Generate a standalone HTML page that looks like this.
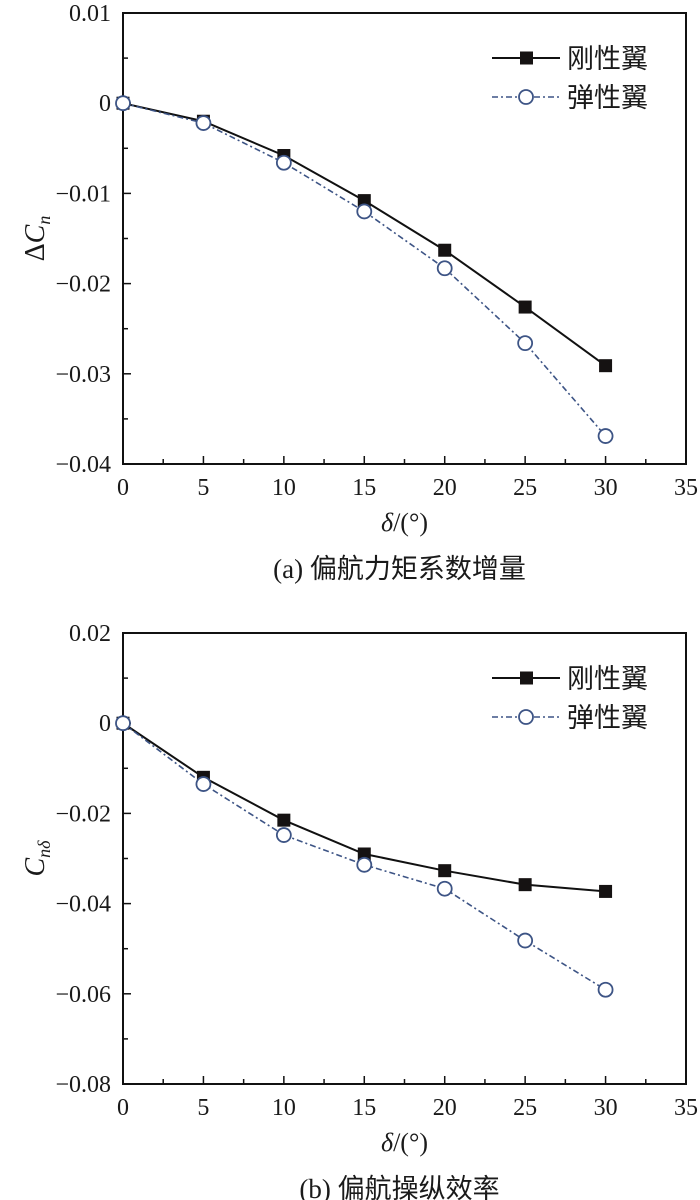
<!DOCTYPE html>
<html><head><meta charset="utf-8"><style>
html,body{margin:0;padding:0;background:#fff;}
svg{display:block;}
text{font-family:"Liberation Serif","Noto Serif CJK SC",serif;fill:#1a1a1a;}
.cj{font-family:"Liberation Serif","Noto Sans CJK SC",sans-serif;}
</style></head><body>
<svg id="c" width="700" height="1200" viewBox="0 0 700 1200" xmlns="http://www.w3.org/2000/svg"></svg>
<script>
const xCats=[0,5,10,15,20,25,30];
const xTicks=[0,5,10,15,20,25,30,35];
const rigidA=[0,-0.002,-0.0058,-0.0108,-0.0163,-0.0226,-0.0291];
const elasticA=[0,-0.0022,-0.0066,-0.012,-0.0183,-0.0266,-0.0369];
const yTicksA=[0.01,0,-0.01,-0.02,-0.03,-0.04];
const yLabelsA=["0.01","0","\u22120.01","\u22120.02","\u22120.03","\u22120.04"];
const rigidB=[0,-0.012,-0.0215,-0.029,-0.0327,-0.0358,-0.0373];
const elasticB=[0,-0.0135,-0.0248,-0.0314,-0.0367,-0.0482,-0.0591];
const yTicksB=[0.02,0,-0.02,-0.04,-0.06,-0.08];
const yLabelsB=["0.02","0","\u22120.02","\u22120.04","\u22120.06","\u22120.08"];

const NS="http://www.w3.org/2000/svg";
const svg=document.getElementById('c');
function mk(tag,attrs,parent,txt){const e=document.createElementNS(NS,tag);for(const k in attrs)e.setAttribute(k,attrs[k]);if(txt!==undefined)e.textContent=txt;(parent||svg).appendChild(e);return e;}

function panel(id,top,ymax,ymin,yTicks,yLabels,rigid,elastic,ylab,caption){
  const L=123,R=686,T=top,B=top+451;
  const g=mk('g',{});
  
  
  const xs=v=>L+(v-0)/35*(R-L);
  const ys=v=>T+(ymax-v)/(ymax-ymin)*(B-T);
  const frame=mk('rect',{x:L,y:T,width:R-L,height:B-T,fill:'none',stroke:'#111','stroke-width':2},g);
  
  
  xTicks.forEach((t,i)=>{
    const x=xs(t);
    mk('line',{x1:x,x2:x,y1:B,y2:B-8,stroke:'#111','stroke-width':1.5},g);
    if(i<xTicks.length-1){const xm=xs(t+2.5);mk('line',{x1:xm,x2:xm,y1:B,y2:B-5,stroke:'#111','stroke-width':1.5},g);}
    const tx=mk('text',{x:x,y:B+31,'font-size':24,'text-anchor':'middle'},g,String(t));
    
    
  });
  yTicks.forEach((t,i)=>{
    const y=ys(t);
    mk('line',{x1:L,x2:L+8,y1:y,y2:y,stroke:'#111','stroke-width':1.5},g);
    if(i<yTicks.length-1){const ym=(y+ys(yTicks[i+1]))/2;mk('line',{x1:L,x2:L+5,y1:ym,y2:ym,stroke:'#111','stroke-width':1.5},g);}
    const tx=mk('text',{x:L-12,y:y+8,'font-size':24,'text-anchor':'end'},g,yLabels[i]);
    
    
  });
  const pr=rigid.map((v,i)=>xs(xCats[i])+','+ys(v)).join(' ');
  const pe=elastic.map((v,i)=>xs(xCats[i])+','+ys(v)).join(' ');
  const lr=mk('polyline',{points:pr,fill:'none',stroke:'#111','stroke-width':2},g);
  
  
  const le=mk('polyline',{points:pe,fill:'none',stroke:'#3d5485','stroke-width':1.6,'stroke-dasharray':'6,3,2,3'},g);
  
  
  rigid.forEach((v,i)=>{
    const r=mk('rect',{x:xs(xCats[i])-6.5,y:ys(v)-6.5,width:13,height:13,fill:'#151212'},g);
    
    
  });
  elastic.forEach((v,i)=>{
    const c=mk('circle',{cx:xs(xCats[i]),cy:ys(v),r:7,fill:'#fff',stroke:'#3d5485','stroke-width':1.8},g);
    
    
  });
  const lg=mk('g',{},g);
  
  
  const y1=T+45,y2=T+84;
  mk('line',{x1:492,x2:560,y1:y1,y2:y1,stroke:'#111','stroke-width':2},lg);
  mk('rect',{x:520,y:y1-6.5,width:13,height:13,fill:'#151212'},lg);
  const t1=mk('text',{x:567,y:y1+10,'font-size':27,class:'cj'},lg,'刚性翼');
  
  
  mk('line',{x1:492,x2:560,y1:y2,y2:y2,stroke:'#3d5485','stroke-width':1.6,'stroke-dasharray':'6,3,2,3'},lg);
  mk('circle',{cx:526,cy:y2,r:7,fill:'#fff',stroke:'#3d5485','stroke-width':1.8},lg);
  const t2=mk('text',{x:567,y:y2+10,'font-size':27,class:'cj'},lg,'弹性翼');
  
  
  const xt=mk('text',{x:(L+R)/2,y:B+67,'font-size':26,'text-anchor':'middle'},g);
  
  
  mk('tspan',{'font-style':'italic'},xt,'δ');
  mk('tspan',{},xt,'/(°)');
  const yt=mk('text',{transform:`translate(44,${(T+B)/2}) rotate(-90)`,'font-size':28,'text-anchor':'middle'},g);
  
  
  ylab(yt);
  const cap=mk('text',{x:(L+R)/2-5,y:B+114,'font-size':27,'text-anchor':'middle',class:'cj'},g,caption);
  
  
}
panel('chart-yaw-moment-increment',13,0.01,-0.04,yTicksA,yLabelsA,rigidA,elasticA,
  t=>{mk('tspan',{},t,'Δ');mk('tspan',{'font-style':'italic'},t,'C');mk('tspan',{'font-style':'italic','font-size':18,dy:6},t,'n');},
  '(a) 偏航力矩系数增量');
panel('chart-yaw-control-efficiency',633,0.02,-0.08,yTicksB,yLabelsB,rigidB,elasticB,
  t=>{mk('tspan',{'font-style':'italic'},t,'C');mk('tspan',{'font-style':'italic','font-size':18,dy:6},t,'nδ');},
  '(b) 偏航操纵效率');
</script>
</body></html>
